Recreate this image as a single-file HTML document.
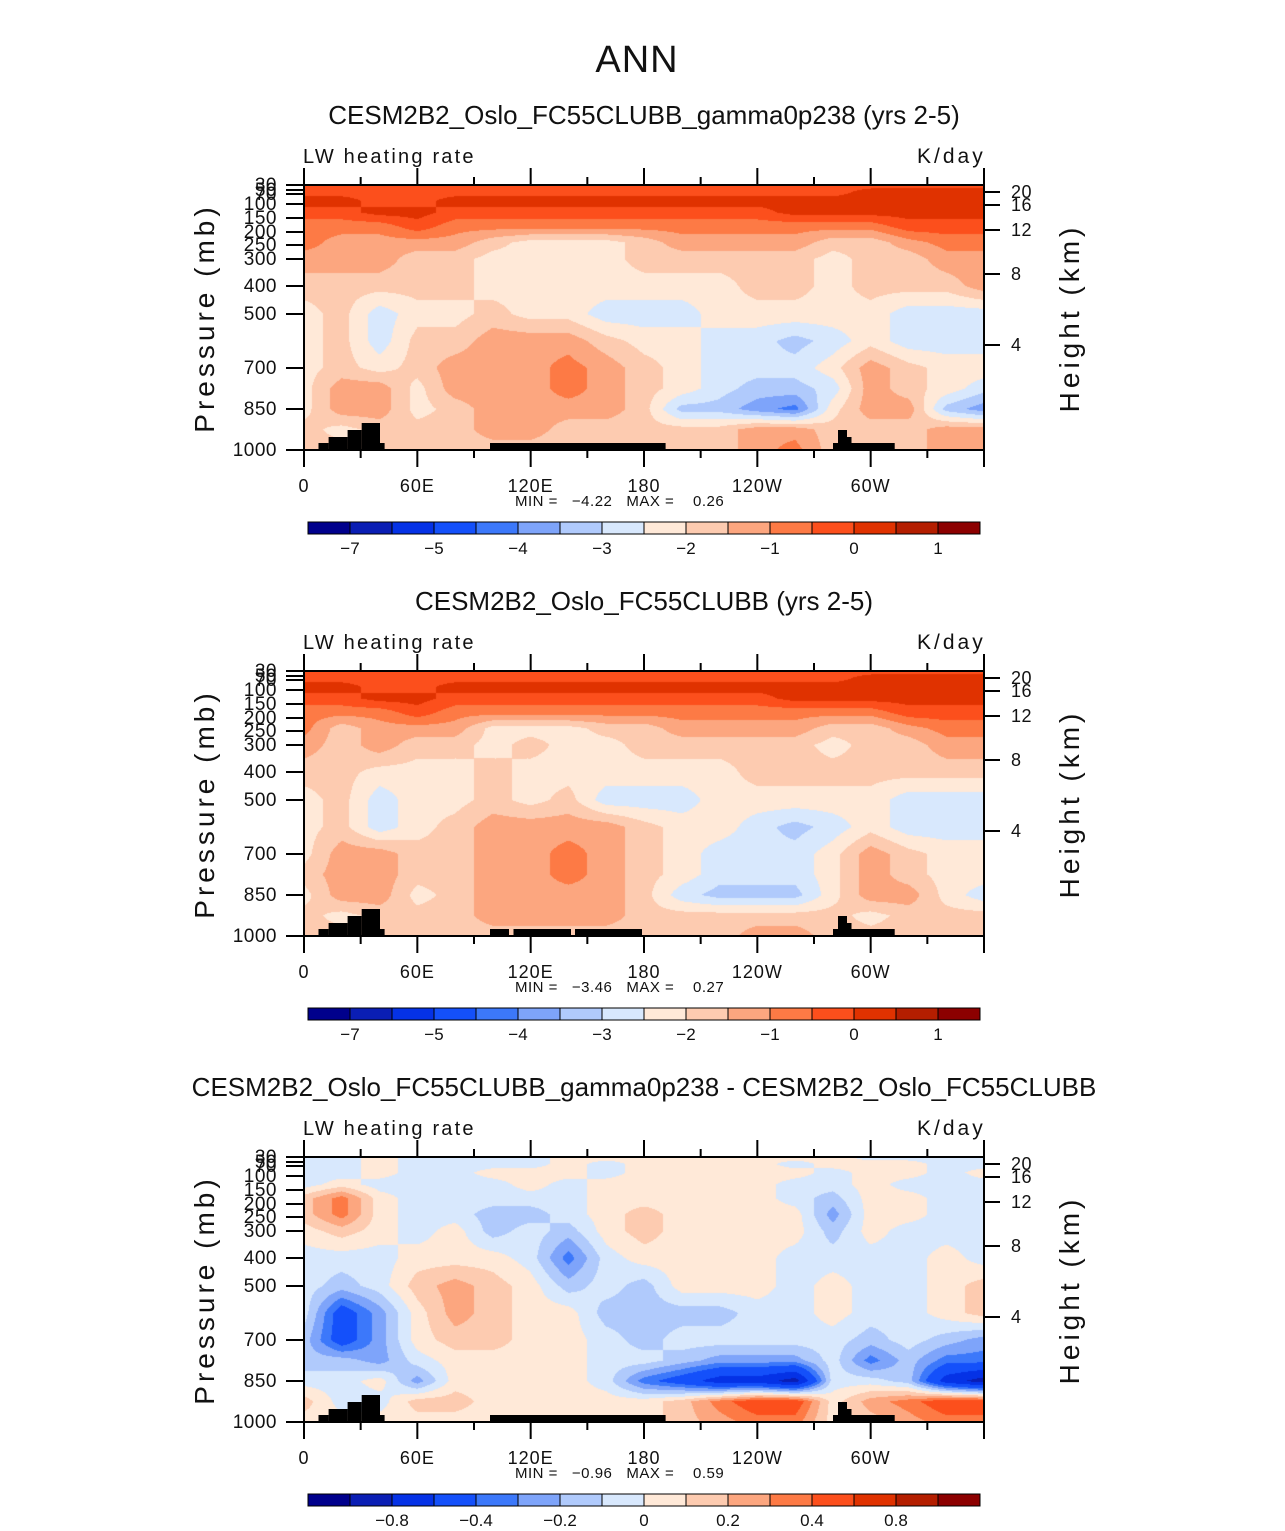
<!DOCTYPE html>
<html><head><meta charset="utf-8">
<style>
html,body{margin:0;padding:0;background:#fff;}
#wrap{position:relative;width:1285px;height:1531px;overflow:hidden;background:#fff;}
canvas{position:absolute;}
svg{position:absolute;left:0;top:0;}
text{font-family:"Liberation Sans",sans-serif;fill:#111;white-space:pre;}
</style></head>
<body>
<div id="wrap">
<canvas id="c1" width="680" height="265" style="left:304px;top:185px"></canvas>
<canvas id="c2" width="680" height="265" style="left:304px;top:671px"></canvas>
<canvas id="c3" width="680" height="265" style="left:304px;top:1157px"></canvas>
<svg id="svg" width="1285" height="1531"></svg>
</div>
<script>
// ---- data ----
const lons = [0,20,40,60,80,100,120,140,160,180,200,220,240,260,280,300,320,340,360];
const levels = [30,60,90,130,180,240,300,400,500,600,700,775,850,925,1000];
const levelsAbs = [-7,-6,-5,-4.5,-4,-3.5,-3,-2.5,-2,-1.5,-1,-0.5,0,0.5,1];
const levelsDiff = [-1,-0.8,-0.6,-0.4,-0.3,-0.2,-0.1,0,0.1,0.2,0.3,0.4,0.6,0.8,1.0];
const labelsAbs = ["−7","−5","−4","−3","−2","−1","0","1"];
const labelIdxAbs = [0,2,4,6,8,10,12,14];
const labelsDiff = ["−0.8","−0.4","−0.2","0","0.2","0.4","0.8"];
const labelIdxDiff = [1,3,5,7,9,11,13];
const pTicks = [30,50,70,100,150,200,250,300,400,500,700,850,1000];
const hTicks = [20,16,12,8,4];
const xTickLabels = ["0","60E","120E","180","120W","60W"];

const fieldGamma = [
[-0.2,-0.2,-0.2,-0.2,-0.2,-0.2,-0.2,-0.2,-0.2,-0.2,-0.2,-0.2,-0.2,-0.2,-0.2,-0.2,-0.2,-0.2,-0.2],
[-0.2,-0.2,-0.2,-0.2,-0.2,-0.2,-0.2,-0.2,-0.2,-0.2,-0.2,-0.2,-0.2,-0.2,-0.2,0.2,0.2,0.2,0.2],
[0.2,0.2,-0.2,-0.2,0.2,0.2,0.2,0.2,0.2,0.2,0.2,0.2,0.2,0.2,0.2,0.2,0.2,0.2,0.2],
[-0.2,-0.2,0.2,0.2,-0.2,-0.2,-0.2,-0.2,-0.2,-0.2,-0.2,-0.2,-0.2,0.2,0.2,0.2,0.2,0.2,0.2],
[-0.8,-0.8,-0.8,-0.2,-0.8,-0.8,-0.8,-0.8,-0.8,-0.8,-0.8,-0.8,-0.8,-0.8,-0.8,-0.8,-0.2,-0.2,-0.2],
[-0.8,-1.2,-1.2,-1.2,-1.2,-1.8,-2.2,-2.2,-2.2,-1.8,-1.2,-1.2,-1.2,-1.2,-1.8,-1.8,-1.2,-0.8,-0.8],
[-1.2,-1.2,-1.2,-1.8,-1.8,-2.2,-2.2,-2.2,-2.2,-1.8,-1.8,-1.8,-1.8,-1.8,-2.2,-1.8,-1.8,-1.2,-1.2],
[-1.8,-1.8,-1.8,-1.8,-1.8,-2.2,-2.2,-2.2,-2.2,-2.2,-2.2,-2.2,-1.8,-1.8,-2.2,-1.8,-1.8,-1.8,-1.2],
[-2.2,-1.8,-2.8,-2.2,-2.2,-1.8,-2.2,-2.2,-2.8,-2.8,-2.8,-2.2,-2.2,-2.2,-2.2,-2.2,-2.8,-2.8,-2.8],
[-2.2,-1.8,-2.8,-1.8,-1.8,-1.2,-1.2,-1.2,-1.8,-2.2,-2.2,-2.8,-2.8,-3.2,-2.8,-2.2,-2.8,-2.8,-2.8],
[-2.2,-1.8,-2.2,-1.8,-1.2,-1.2,-1.2,-0.8,-1.2,-1.8,-2.2,-2.8,-2.8,-2.8,-2.2,-1.2,-1.8,-2.2,-2.2],
[-2.2,-1.2,-1.2,-2.2,-1.2,-1.2,-1.2,-0.8,-1.2,-1.8,-2.2,-2.8,-3.2,-3.2,-2.8,-1.2,-1.8,-2.2,-2.8],
[-2.2,-1.2,-1.2,-2.2,-1.8,-1.2,-1.2,-1.2,-1.2,-1.8,-3.2,-3.2,-3.8,-4.2,-2.2,-1.2,-1.2,-3.2,-3.8],
[-1.8,-2.2,-1.8,-1.8,-1.8,-1.2,-1.2,-1.8,-1.8,-1.8,-1.8,-1.8,-1.2,-1.2,-1.8,-1.8,-1.8,-1.2,-1.2],
[-1.8,-1.8,-1.8,-1.8,-1.8,-1.8,-1.8,-1.8,-1.8,-1.8,-1.8,-1.8,-1.2,-0.8,-1.8,-1.8,-1.8,-1.2,-1.2]
];
const fieldControl = [
[-0.2,-0.2,-0.2,-0.2,-0.2,-0.2,-0.2,-0.2,-0.2,-0.2,-0.2,-0.2,-0.2,-0.2,-0.2,-0.2,-0.2,-0.2,-0.2],
[-0.2,-0.2,-0.2,-0.2,-0.2,-0.2,-0.2,-0.2,-0.2,-0.2,-0.2,-0.2,-0.2,-0.2,-0.2,0.2,0.2,0.2,0.2],
[0.2,0.2,-0.2,-0.2,0.2,0.2,0.2,0.2,0.2,0.2,0.2,0.2,0.2,0.2,0.2,0.2,0.2,0.2,0.2],
[-0.2,-0.2,0.2,0.2,-0.2,-0.2,-0.2,-0.2,-0.2,-0.2,-0.2,-0.2,-0.2,0.2,0.2,0.2,0.2,0.2,0.2],
[-0.8,-0.8,-0.8,-0.2,-0.8,-0.8,-0.8,-0.8,-0.8,-0.8,-0.8,-0.8,-0.8,-0.8,-0.8,-0.8,-0.2,-0.2,-0.2],
[-0.8,-1.8,-1.2,-1.2,-1.2,-2.2,-2.2,-2.2,-1.8,-1.8,-1.2,-1.2,-1.2,-1.2,-1.8,-1.8,-1.2,-0.8,-0.8],
[-1.2,-1.8,-1.2,-1.8,-1.8,-2.2,-1.8,-2.2,-2.2,-1.8,-1.8,-1.8,-1.8,-1.8,-2.2,-1.8,-1.8,-1.2,-1.2],
[-1.8,-1.8,-2.2,-2.2,-2.2,-1.8,-2.2,-2.2,-2.2,-2.2,-2.2,-2.2,-1.8,-1.8,-1.8,-1.8,-1.8,-1.8,-1.8],
[-2.2,-1.8,-2.8,-2.2,-2.2,-1.8,-2.2,-1.8,-2.8,-2.8,-2.8,-2.2,-2.2,-2.2,-2.2,-2.2,-2.8,-2.8,-2.8],
[-2.2,-1.8,-2.8,-2.2,-1.8,-1.2,-1.2,-1.2,-1.2,-1.8,-2.2,-2.2,-2.8,-3.2,-2.8,-2.2,-2.8,-2.8,-2.8],
[-2.2,-1.2,-1.2,-1.8,-1.8,-1.2,-1.2,-0.8,-1.2,-1.8,-2.2,-2.8,-2.8,-2.8,-2.2,-1.2,-1.8,-2.2,-2.2],
[-1.8,-1.2,-1.2,-1.8,-1.8,-1.2,-1.2,-0.8,-1.2,-1.8,-2.2,-2.8,-2.8,-2.8,-2.2,-1.2,-1.8,-2.2,-2.2],
[-2.2,-1.2,-1.2,-2.2,-1.8,-1.2,-1.2,-1.2,-1.2,-1.8,-2.8,-3.2,-3.2,-3.2,-2.2,-1.2,-1.2,-2.2,-2.8],
[-1.8,-2.2,-1.8,-1.8,-1.8,-1.2,-1.2,-1.2,-1.2,-1.8,-1.8,-1.8,-1.8,-1.8,-1.8,-2.2,-1.8,-1.8,-1.8],
[-1.8,-1.8,-1.8,-1.8,-1.8,-1.8,-1.8,-1.8,-1.8,-1.8,-1.8,-1.8,-1.2,-1.2,-1.8,-1.8,-1.8,-1.8,-1.8]
];
const fieldDiff = [
[-0.05,-0.05,0.05,-0.05,-0.05,-0.05,-0.05,0.05,0.05,0.05,0.05,0.05,0.05,0.05,0.05,-0.05,-0.05,-0.05,-0.05],
[-0.05,-0.05,0.05,-0.05,-0.05,-0.05,-0.05,0.05,-0.05,0.05,0.05,0.05,0.05,-0.05,0.05,0.05,0.05,-0.05,-0.05],
[-0.05,-0.05,0.05,-0.05,-0.05,0.05,0.05,0.05,-0.05,0.05,0.05,0.05,0.05,0.05,-0.05,0.05,0.05,-0.05,0.05],
[-0.05,0.05,-0.05,-0.05,-0.05,-0.05,0.05,-0.05,0.05,0.05,0.05,0.05,0.05,-0.05,-0.05,0.05,-0.05,-0.05,-0.05],
[0.15,0.35,0.05,-0.05,-0.05,-0.05,-0.05,-0.05,0.05,0.05,0.05,0.05,0.05,-0.05,-0.15,0.05,0.05,-0.05,-0.05],
[0.15,0.35,0.05,-0.05,-0.05,-0.15,-0.15,-0.05,0.05,0.15,0.05,0.05,0.05,0.05,-0.25,0.05,0.05,-0.05,-0.05],
[0.05,0.15,0.05,-0.05,0.05,-0.15,-0.05,-0.15,0.05,0.15,0.05,0.05,0.05,0.05,-0.15,0.05,-0.05,-0.05,-0.05],
[-0.05,-0.05,-0.05,0.05,0.05,0.05,-0.05,-0.35,-0.05,0.05,0.05,0.05,0.05,-0.05,-0.05,-0.05,-0.05,0.05,-0.05],
[-0.05,-0.15,-0.05,0.15,0.25,0.15,0.05,-0.15,-0.05,-0.15,0.05,0.05,0.05,-0.05,0.05,-0.05,-0.05,0.05,0.15],
[-0.05,-0.5,-0.25,0.05,0.25,0.15,0.05,0.05,-0.15,-0.15,-0.15,-0.15,-0.05,-0.05,0.05,-0.05,-0.05,0.05,0.15],
[-0.15,-0.5,-0.25,0.05,0.15,0.15,0.05,0.05,-0.05,-0.15,-0.05,-0.05,-0.05,-0.05,-0.05,-0.15,-0.05,-0.15,-0.25],
[-0.15,-0.15,-0.25,-0.05,0.05,0.05,0.05,0.05,-0.05,-0.05,-0.15,-0.25,-0.25,-0.25,-0.05,-0.35,-0.15,-0.35,-0.35],
[-0.05,-0.05,0.05,-0.25,0.05,0.05,0.05,0.05,-0.05,-0.35,-0.5,-0.7,-0.7,-0.9,-0.05,-0.05,-0.15,-0.7,-0.9],
[0.15,-0.05,-0.05,0.15,0.15,0.05,0.05,0.05,0.05,0.05,0.15,0.35,0.5,0.5,0.05,0.25,0.35,0.5,0.5],
[0.05,0.05,0.05,0.05,0.05,0.05,0.05,0.05,0.05,0.05,0.15,0.25,0.35,0.35,0.05,0.15,0.25,0.35,0.35]
];
const palette = ["#00008c","#0a1eb4","#0532e6","#1450fa","#3c78fa","#7ea4fa","#b0cafc","#d8e8fd","#ffe9d8","#fdcbb0","#fca67f","#fd7a45","#fc4f1c","#e03200","#b41e00","#8c0000"];

// ---- geometry ----
const PX0 = 304, PW = 680, PH = 265;
const pTab = [30,50,70,100,150,200,250,300,400,500,700,850,1000];
const yTab = [0,5,9,19,33,47,60,74,101,129,183,224,265];
function pToY(p){
  for(let i=0;i<pTab.length-1;i++){
    if(p<=pTab[i+1]){const t=(p-pTab[i])/(pTab[i+1]-pTab[i]);return yTab[i]+t*(yTab[i+1]-yTab[i]);}
  }
  return PH;
}
function lonToX(l){return PX0 + l/360*PW;}
const hY = [7,20,45,89,160];

function colorIdx(v,b){let k=0;for(let i=0;i<b.length;i++){if(v>=b[i])k=i+1;}return k;}

function drawField(id, field, bounds){
  const cv=document.getElementById(id);const ctx=cv.getContext('2d');
  const img=ctx.createImageData(PW,PH);
  const rowY=levels.map(pToY);
  const rgb=palette.map(h=>[parseInt(h.substr(1,2),16),parseInt(h.substr(3,2),16),parseInt(h.substr(5,2),16)]);
  for(let py=0;py<PH;py++){
    let r=0;while(r<rowY.length-2 && rowY[r+1]<py+0.5) r++;
    const ty=Math.min(1,Math.max(0,(py+0.5-rowY[r])/(rowY[r+1]-rowY[r])));
    for(let px=0;px<PW;px++){
      const cf=(px+0.5)/PW*(lons.length-1);
      let c=Math.min(lons.length-2,Math.floor(cf));const tx=cf-c;
      const v=(1-ty)*((1-tx)*field[r][c]+tx*field[r][c+1])+ty*((1-tx)*field[r+1][c]+tx*field[r+1][c+1]);
      const col=rgb[colorIdx(v,bounds)];
      const o=(py*PW+px)*4;img.data[o]=col[0];img.data[o+1]=col[1];img.data[o+2]=col[2];img.data[o+3]=255;
    }
  }
  ctx.putImageData(img,0,0);
}
drawField('c1',fieldGamma,levelsAbs);
drawField('c2',fieldControl,levelsAbs);
drawField('c3',fieldDiff,levelsDiff);

// ---- svg overlay ----
const svg=document.getElementById('svg');
const NS='http://www.w3.org/2000/svg';
function mk(tag,attrs,parent,txt){const e=document.createElementNS(NS,tag);for(const k in attrs)e.setAttribute(k,attrs[k]);if(txt!==undefined)e.textContent=txt;(parent||svg).appendChild(e);return e;}

const t0=mk('text',{x:637,y:72,'font-size':38,'text-anchor':'middle','letter-spacing':'1'},svg,'ANN');



const titles=["CESM2B2_Oslo_FC55CLUBB_gamma0p238 (yrs 2-5)","CESM2B2_Oslo_FC55CLUBB (yrs 2-5)","CESM2B2_Oslo_FC55CLUBB_gamma0p238 - CESM2B2_Oslo_FC55CLUBB"];
const mins=["−4.22","−3.46","−0.96"];
const maxs=["0.26","0.27","0.59"];
const terrainSteps=[
 [[318.5,328.6,443],[328.6,347.6,437],[347.6,361.7,430],[361.7,380,423],[380,384.6,443],[490,665.6,443],[833,838,443],[838,847,430],[847,851.5,437],[851.5,894.7,443]],
 [[318.5,328.6,443],[328.6,347.6,437],[347.6,361.7,430],[361.7,380,423],[380,384.6,443],[490,509,443],[513.5,571,443],[575,642,443],[833,838,443],[838,847,430],[847,851.5,437],[851.5,894.7,443]],
 [[318.5,328.6,443],[328.6,347.6,437],[347.6,361.7,430],[361.7,380,423],[380,384.6,443],[490,665.6,443],[833,838,443],[838,847,430],[847,851.5,437],[851.5,894.7,443]]
];

for(let k=0;k<3;k++){
  const off=486*k;const top=185+off;const bot=top+PH;
  const g=mk('g',{},svg);
  
  
  const tt=mk('text',{x:644,y:124+off,'font-size':26,'text-anchor':'middle'},g,titles[k]);
  
  
  const lt=mk('text',{x:303,y:163+off,'font-size':20,'letter-spacing':'2.2'},g,'LW heating rate');
  
  
  const ut=mk('text',{x:917,y:163+off,'font-size':21,'letter-spacing':'3'},g,'K/day');
  
  
  terrainSteps[k].forEach(s=>{
    const r=mk('rect',{x:s[0],y:s[2]+off,width:s[1]-s[0],height:bot-(s[2]+off),fill:'#000'},g);
    
    
  });
  const fr=mk('rect',{x:PX0,y:top,width:PW,height:PH,fill:'none',stroke:'#000','stroke-width':2},g);
  
  
  for(let l=0;l<=360;l+=30){
    const x=lonToX(l);const major=(l%60===0);
    mk('line',{x1:x,x2:x,y1:bot,y2:bot+(major?17:8),stroke:'#000','stroke-width':2},g);
    mk('line',{x1:x,x2:x,y1:top,y2:top-(major?17:8),stroke:'#000','stroke-width':2},g);
  }
  xTickLabels.forEach((s,i)=>{
    const xl=mk('text',{x:lonToX(i*60),y:bot+42,'font-size':18,'text-anchor':'middle','letter-spacing':'1'},g,s);
    
    
  });
  pTicks.forEach(p=>{
    const y=top+pToY(p);
    mk('line',{x1:PX0-18,x2:PX0,y1:y,y2:y,stroke:'#000','stroke-width':2},g);
    const pl=mk('text',{x:277,y:y+6,'font-size':19,'text-anchor':'end','letter-spacing':'0.5'},g,String(p));
    
    
  });
  hTicks.forEach((h,i)=>{
    const y=top+hY[i];
    mk('line',{x1:PX0+PW,x2:PX0+PW+16,y1:y,y2:y,stroke:'#000','stroke-width':2},g);
    const hl=mk('text',{x:1011,y:y+6,'font-size':18,'letter-spacing':'0.5'},g,String(h));
    
    
  });
  const yl=mk('text',{x:0,y:0,'font-size':28,'text-anchor':'middle','letter-spacing':'4',transform:`translate(214,${318+off}) rotate(-90)`},g,'Pressure (mb)');
  
  
  const yr=mk('text',{x:0,y:0,'font-size':28,'text-anchor':'middle','letter-spacing':'4',transform:`translate(1079,${318+off}) rotate(-90)`},g,'Height (km)');
  
  
  const mm=mk('text',{x:515,y:506+off,'font-size':15,'letter-spacing':'0.5'},g,'MIN =   '+mins[k]+'   MAX =    '+maxs[k]);
  
  
  const cb=mk('g',{},g);
  
  
  for(let i=0;i<16;i++){
    const r=mk('rect',{x:308+i*42,y:522+off,width:42,height:12,fill:palette[i],stroke:'#000','stroke-width':1},cb);
    
    
  }
  const labs=k<2?labelsAbs:labelsDiff;const idx=k<2?labelIdxAbs:labelIdxDiff;
  labs.forEach((s,i)=>{
    const cl=mk('text',{x:308+(idx[i]+1)*42,y:554+off,'font-size':17,'text-anchor':'middle'},cb,s);
    
    
  });
}
</script>
</body></html>
